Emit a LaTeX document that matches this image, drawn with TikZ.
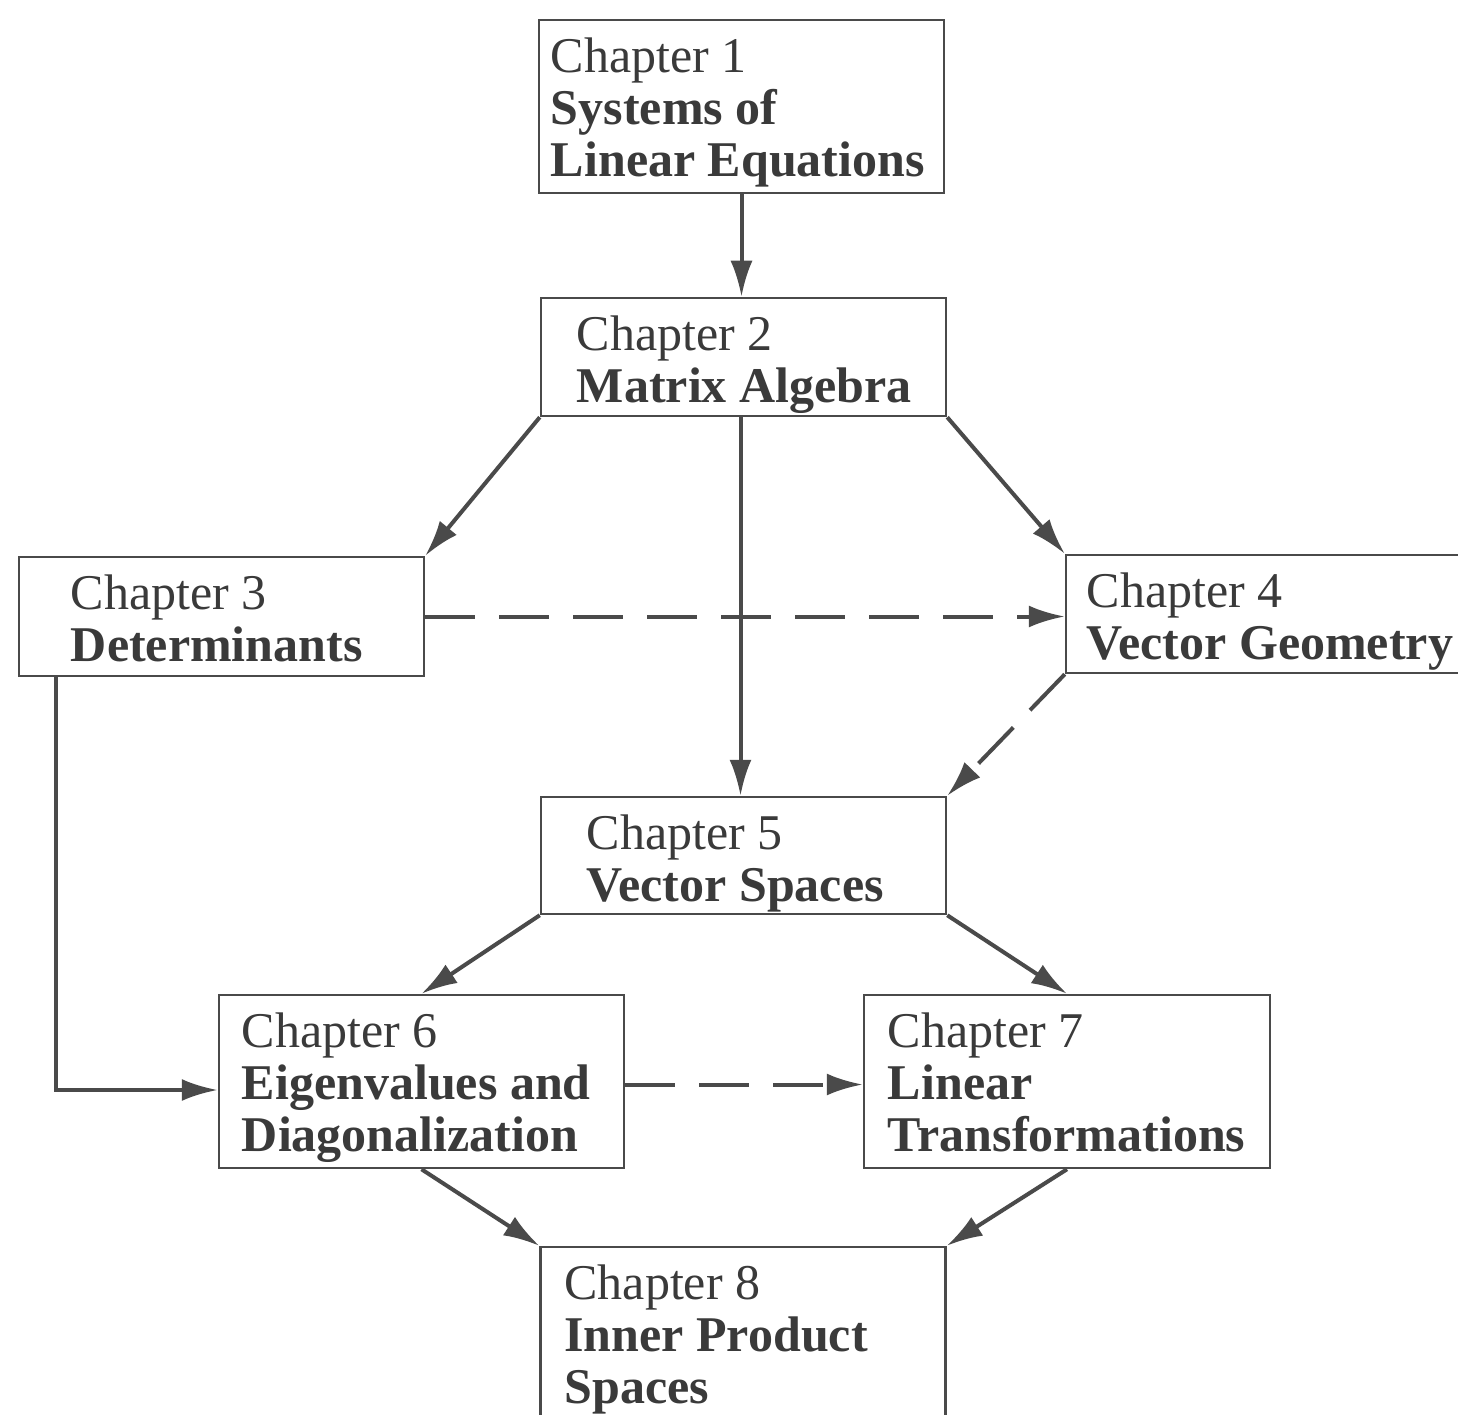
\documentclass[tikz,border=0pt]{standalone}
\usepackage{fontspec}
\setmainfont{Liberation Serif}
\usetikzlibrary{arrows.meta}
\definecolor{ln}{HTML}{4A4A4A}
\definecolor{tx}{HTML}{3A3A3A}
\begin{document}
\begin{tikzpicture}[x=1pt,y=-1pt,
  chap/.style={draw=ln, line width=2.5pt, minimum width=405pt, inner sep=0pt},
  txt/.style={anchor=north west, align=left, inner sep=0pt, text=tx, font=\fontsize{50}{52}\selectfont},
  link/.style={draw=ln, line width=4pt, -{Latex[length=36pt,width=22pt]}},
  dlink/.style={link, dash pattern=on 50pt off 24pt}]
\useasboundingbox (0,0) rectangle (1458,1415);
\clip (0,0) rectangle (1458,1415);
\fill[white] (0,0) rectangle (1458,1415);

\node[chap, minimum height=173pt] (c1) at (741.5,106.5) {};
\node[chap, minimum height=118pt] (c2) at (743.5,357) {};
\node[chap, minimum height=119pt] (c3) at (221.5,616.5) {};
\node[chap, minimum height=118pt] (c4) at (1268.5,614) {};
\node[chap, minimum height=117pt] (c5) at (743.5,855.5) {};
\node[chap, minimum height=173pt] (c6) at (421.5,1081.5) {};
\node[chap, minimum height=173pt, minimum width=406pt] (c7) at (1067,1081.5) {};
\node[chap, minimum height=173pt] (c8) at (743,1333.5) {};

\node[txt] (t1) at ([shift={(13,17.5)}]c1.north west) {\strut Chapter 1\\ \textbf{Systems of}\\ \textbf{Linear Equations}};
\node[txt] (t2) at ([shift={(37,17.5)}]c2.north west) {\strut Chapter 2\\ \textbf{Matrix Algebra}};
\node[txt] (t3) at ([shift={(53,17.5)}]c3.north west) {\strut Chapter 3\\ \textbf{Determinants}};
\node[txt] (t4) at ([shift={(22,17.5)}]c4.north west) {\strut Chapter 4\\ \textbf{Vector Geometry}};
\node[txt] (t5) at ([shift={(47,17.5)}]c5.north west) {\strut Chapter 5\\ \textbf{Vector Spaces}};
\node[txt] (t6) at ([shift={(24,17.5)}]c6.north west) {\strut Chapter 6\\ \textbf{Eigenvalues and}\\ \textbf{Diagonalization}};
\node[txt] (t7) at ([shift={(25,17.5)}]c7.north west) {\strut Chapter 7\\ \textbf{Linear}\\ \textbf{Transformations}};
\node[txt] (t8) at ([shift={(25,17.5)}]c8.north west) {\strut Chapter 8\\ \textbf{Inner Product}\\ \textbf{Spaces}};

\draw[link] (c1.south) -- (c1.south |- c2.north);
\draw[link] (c2.south west) -- (c3.north east);
\draw[link] (c2.south east) -- (c4.north west);
\draw[link] ([xshift=-3pt]c2.south) -- ([xshift=-3pt]c2.south |- c5.north);
\draw[dlink] (c3.east) -- (c3.east -| c4.west);
\draw[dlink] (c4.south west) -- (c5.north east);
\draw[link] ([xshift=38pt]c3.south west) |- ([yshift=-8.5pt]c6.west);
\draw[link] (c5.south west) -- (c6.north);
\draw[link] (c5.south east) -- (c7.north);
\draw[dlink] ([yshift=-3pt]c6.east) -- ([yshift=-3pt]c7.west);
\draw[link] (c6.south) -- (c8.north west);
\draw[link] (c7.south) -- (c8.north east);
\end{tikzpicture}
\end{document}
